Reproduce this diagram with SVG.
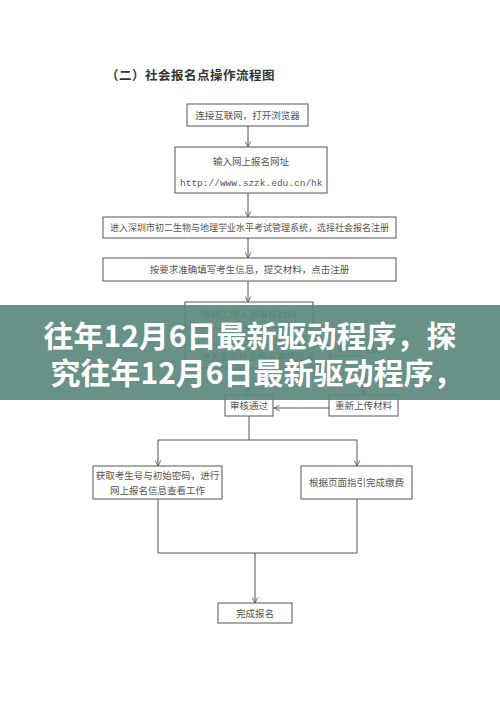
<svg xmlns="http://www.w3.org/2000/svg" width="500" height="707" viewBox="0 0 500 707">
<defs>
<style>
.box{fill:#fff;stroke:#555;stroke-width:1}
.t{font-family:"Noto Sans CJK SC","Liberation Serif",serif;font-size:9.5px;fill:#555;text-anchor:middle}
.ln{fill:none;stroke:#555;stroke-width:1}
.band{font-family:"Noto Sans CJK SC","Noto Sans",sans-serif;font-size:30px;font-weight:bold;fill:#fff;text-anchor:middle}
</style>
<marker id="ar" viewBox="0 0 10 10" refX="9" refY="5" markerWidth="7" markerHeight="7" orient="auto">
<path d="M1,1 L9,5 L1,9" fill="none" stroke="#555" stroke-width="1.2"/>
</marker>
</defs>
<rect width="500" height="707" fill="#fff"/>
<text x="106" y="80" font-family="Noto Sans CJK SC,sans-serif" font-size="12.5" font-weight="bold" fill="#333" letter-spacing="0.5">（二）社会报名点操作流程图</text>
<g id="connectors">
<line class="ln" x1="248" y1="126" x2="248" y2="147" marker-end="url(#ar)"/>
<line class="ln" x1="248" y1="193" x2="248" y2="217" marker-end="url(#ar)"/>
<line class="ln" x1="248" y1="238" x2="248" y2="258" marker-end="url(#ar)"/>
<line class="ln" x1="248" y1="281" x2="248" y2="302" marker-end="url(#ar)"/>
<line class="ln" x1="248" y1="328" x2="248" y2="345" marker-end="url(#ar)"/>
<line class="ln" x1="248" y1="368" x2="248" y2="395" marker-end="url(#ar)"/>
<polyline class="ln" points="330,356 363,356 363,395" marker-end="url(#ar)"/>
<line class="ln" x1="329" y1="408" x2="274" y2="408" marker-end="url(#ar)"/>
<polyline class="ln" points="249,416 249,440"/>
<polyline class="ln" points="158,440 357,440"/>
<line class="ln" x1="158" y1="440" x2="158" y2="466" marker-end="url(#ar)"/>
<line class="ln" x1="357" y1="440" x2="357" y2="466" marker-end="url(#ar)"/>
<polyline class="ln" points="158,499 158,553 357,553 357,499"/>
<line class="ln" x1="255" y1="553" x2="255" y2="603" marker-end="url(#ar)"/>
</g>
<g id="n1"><rect class="box" x="187" y="104" width="121" height="22"/><text class="t" x="247.5" y="118.5">连接互联网，打开浏览器</text></g>
<g id="n2"><rect class="box" x="175" y="147" width="152" height="46"/><text class="t" x="251" y="165">输入网上报名网址</text><text x="180" y="186" font-family="Liberation Mono,monospace" font-size="9.5" fill="#555">http://www.szzk.edu.cn/hk</text></g>
<g id="n3"><rect class="box" x="103" y="217" width="293" height="21"/><text class="t" x="249.5" y="231" style="font-size:9px">进入深圳市初二生物与地理学业水平考试管理系统，选择社会报名注册</text></g>
<g id="n4"><rect class="box" x="103" y="258" width="293" height="23"/><text class="t" x="249.5" y="273">按要求准确填写考生信息，提交材料，点击注册</text></g>
<g id="n5"><rect class="box" x="185" y="302" width="128" height="26"/><text class="t" x="249" y="318">等待工作人员审核材料</text></g>
<g id="n6"><rect class="box" x="185" y="345" width="145" height="23"/><text class="t" x="257.5" y="360">进入查询社会报名审核结果</text></g>
<g id="n7"><text class="t" x="360" y="352">审核不通过</text></g>
<g id="n8"><rect class="box" x="225" y="395" width="48" height="21"/><text class="t" x="249" y="409">审核通过</text></g>
<g id="n9"><rect class="box" x="329" y="395" width="69" height="21"/><text class="t" x="363.5" y="409">重新上传材料</text></g>
<g id="n10"><rect class="box" x="93" y="466" width="129" height="33"/><text class="t" x="157.5" y="479">获取考生号与初始密码，进行</text><text class="t" x="157.5" y="494">网上报名信息查看工作</text></g>
<g id="n11"><rect class="box" x="301" y="466" width="111" height="33"/><text class="t" x="356.5" y="486">根据页面指引完成缴费</text></g>
<g id="n12"><rect class="box" x="218" y="603" width="74" height="20"/><text class="t" x="255" y="616.5">完成报名</text></g>
<rect x="0" y="305" width="500" height="95" fill="#5b887d" fill-opacity="0.92"/>
<text class="band" x="250" y="347">往年12月6日最新驱动程序，探</text>
<text class="band" x="257" y="384">究往年12月6日最新驱动程序，</text>
</svg>
